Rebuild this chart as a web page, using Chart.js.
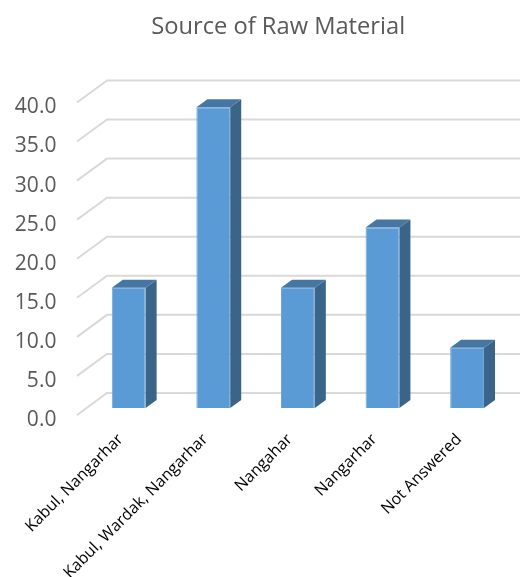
<!DOCTYPE html>
<html lang="en">
<head>
    <meta charset="UTF-8">
    <title>Source of Raw Material</title>
    <style>
        html, body { margin: 0; padding: 0; background: #fff; }
        canvas { display: block; }
    </style>
</head>
<body>
    <canvas id="rawChart" width="520" height="577"></canvas>
    <script src="https://cdn.jsdelivr.net/npm/chart.js"></script>
    <script>
const categories = ['Kabul, Nangarhar', 'Kabul, Wardak, Nangarhar', 'Nangahar', 'Nangarhar', 'Not Answered'];
const percentages = [15.4, 38.5, 15.4, 23.1, 7.7];
const FONT = '"Open Sans", sans-serif';

// fake 3d: the bars stay on the scale, the walls and faces are offset from it
const fake3d = {
    id: 'fake3d',
    afterLayout(chart) {
        // tick labels get clipped to the axis box, so let it reach the canvas edge
        chart.scales.y.left = 0;
    },
    beforeDatasetsDraw(chart) {
        const { ctx, scales: { y } } = chart;
        ctx.save();
        ctx.strokeStyle = '#d9d9d9';
        ctx.lineWidth = 2;
        y.ticks.forEach(t => {
            const py = y.getPixelForValue(t.value);
            ctx.beginPath();
            ctx.moveTo(77, py + 7);
            ctx.lineTo(107, py - 15);
            ctx.lineTo(520, py - 15);
            ctx.stroke();
        });
        ctx.restore();
    },
    afterDatasetsDraw(chart) {
        const { ctx } = chart;
        const dx = 11, dy = -8;
        ctx.save();
        chart.getDatasetMeta(0).data.forEach(bar => {
            const right = bar.x + bar.width / 2;
            const left = bar.x - bar.width / 2;
            ctx.fillStyle = '#3a6488';
            ctx.beginPath();
            ctx.moveTo(right, bar.y);
            ctx.lineTo(right + dx, bar.y + dy);
            ctx.lineTo(right + dx, bar.base + dy);
            ctx.lineTo(right, bar.base);
            ctx.closePath();
            ctx.fill();
            ctx.fillStyle = '#4677a4';
            ctx.beginPath();
            ctx.moveTo(left, bar.y);
            ctx.lineTo(left + dx, bar.y + dy);
            ctx.lineTo(right + dx, bar.y + dy);
            ctx.lineTo(right, bar.y);
            ctx.closePath();
            ctx.fill();
        });
        ctx.restore();
    }
};

new Chart(document.getElementById('rawChart'), {
    type: 'bar',
    data: {
        labels: categories,
        datasets: [{
            data: percentages,
            backgroundColor: '#5b9bd5',
            borderColor: '#6ca6da',
            borderWidth: 1,
            categoryPercentage: 1,
            barPercentage: 0.4
        }]
    },
    options: {
        responsive: false,
        animation: false,
        layout: { padding: { left: 47, right: 10.6, top: 0, bottom: 0 } },
        plugins: {
            legend: { display: false },
            tooltip: { enabled: false },
            title: {
                display: true,
                text: 'Source of Raw Material',
                color: '#595959',
                font: { family: FONT, size: 23.7, weight: 'normal' },
                padding: { top: 13, bottom: 54 }
            }
        },
        scales: {
            x: {
                grid: { display: false },
                border: { display: false },
                ticks: {
                    color: '#000',
                    font: { family: FONT, size: 16 },
                    minRotation: 45,
                    maxRotation: 45,
                    autoSkip: false,
                    padding: 14,
                    labelOffset: -8
                },
                afterFit(scale) { scale.height = 169; }
            },
            y: {
                min: 0,
                max: 40,
                grid: { display: false },
                border: { display: false },
                ticks: {
                    stepSize: 5,
                    color: '#595959',
                    font: { family: FONT, size: 21 },
                    padding: 22,
                    labelOffset: 12,
                    callback: v => v.toFixed(1)
                },
                afterFit(scale) { scale.width = 39.4; }
            }
        }
    },
    plugins: [fake3d]
});
    </script>
</body>
</html>
